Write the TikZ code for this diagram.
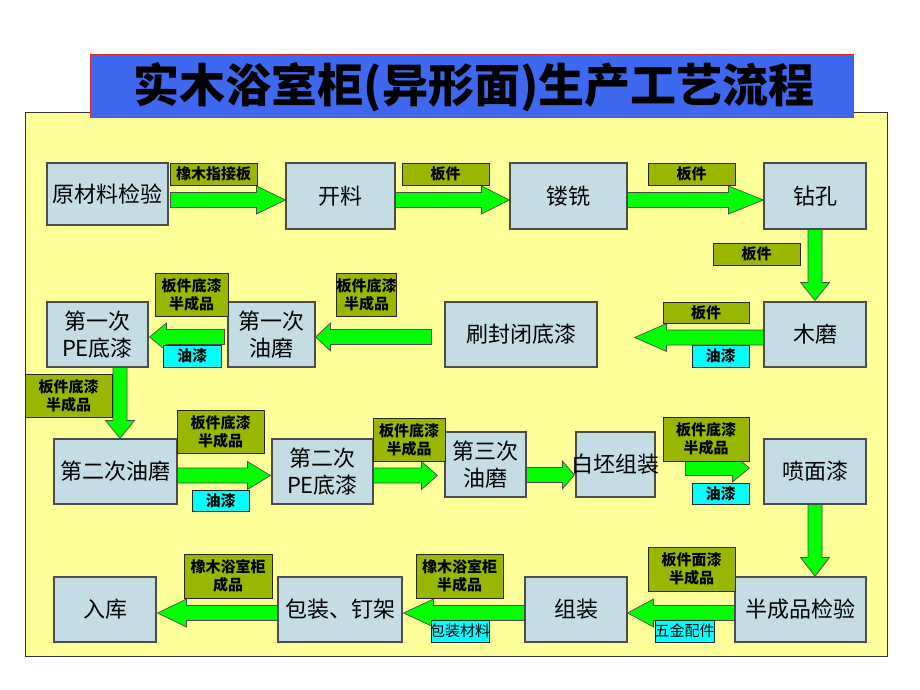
\documentclass[tikz,border=0pt]{standalone}
\usepackage{fontspec}
\setmainfont{Noto Sans CJK SC}
\usetikzlibrary{calc}
\definecolor{bgyellow}{HTML}{FFFF99}
\definecolor{procfill}{RGB}{196,221,229}
\definecolor{labolive}{RGB}{153,183,0}
\definecolor{labcyan}{HTML}{00FFFF}
\definecolor{arrgreen}{HTML}{00FF00}
\definecolor{titleblue}{RGB}{62,104,240}
\definecolor{titlered}{RGB}{230,40,40}
\pgfdeclarelayer{back}
\pgfdeclarelayer{arr}
\pgfsetlayers{back,arr,main}
\tikzset{
  procbox/.style={draw=black!70, line width=1.1pt, fill=procfill, align=center, inner sep=0pt,
    font=\fontsize{22}{27}\selectfont},
  sz/.style 2 args={minimum width=#1pt, minimum height=#2pt},
  olivelab/.style={draw=black!85, line width=0.8pt, fill=labolive, align=center, inner sep=0pt,
    font=\bfseries\fontsize{15}{18}\selectfont},
  cyanlab/.style={olivelab, fill=labcyan},
  cyanreg/.style={cyanlab, font=\fontsize{15}{18}\selectfont},
  barrow/.style={draw=black!70, line width=0.7pt, fill=arrgreen, line join=miter},
}
% horizontal block arrow: from anchor, dx, to anchor, dx, signed head offset, y
\newcommand{\harr}[6]{%
  \path[barrow] let \p1=(#1), \p2=(#3) in
    ({\x1+(#2)*1pt},{-(#6-7.5)*1pt}) -- ({\x2+((#4)+(#5))*1pt},{-(#6-7.5)*1pt})
    -- ({\x2+((#4)+(#5))*1pt},{-(#6-14)*1pt}) -- ({\x2+(#4)*1pt},{-(#6)*1pt})
    -- ({\x2+((#4)+(#5))*1pt},{-(#6+14)*1pt}) -- ({\x2+((#4)+(#5))*1pt},{-(#6+7.5)*1pt})
    -- ({\x1+(#2)*1pt},{-(#6+7.5)*1pt}) -- cycle;}
% vertical block arrow: from anchor, dy, to anchor, dy, signed head offset, x
\newcommand{\varr}[6]{%
  \path[barrow] let \p1=(#1), \p2=(#3) in
    ({(#6-7)*1pt},{\y1-(#2)*1pt}) -- ({(#6-7)*1pt},{\y2-((#4)+(#5))*1pt})
    -- ({(#6-14.5)*1pt},{\y2-((#4)+(#5))*1pt}) -- ({(#6)*1pt},{\y2-(#4)*1pt})
    -- ({(#6+14.5)*1pt},{\y2-((#4)+(#5))*1pt}) -- ({(#6+7)*1pt},{\y2-((#4)+(#5))*1pt})
    -- ({(#6+7)*1pt},{\y1-(#2)*1pt}) -- cycle;}
\begin{document}
\begin{tikzpicture}[x=1pt,y=-1pt]
\useasboundingbox (0,0) rectangle (920,690);
\begin{pgfonlayer}{back}
  \fill[white] (0,0) rectangle (920,690);
  \node[draw=black!80, line width=0.8pt, fill=bgyellow, sz={862}{544}] (panel) at (456,384) {};
\end{pgfonlayer}
% title
\node[draw=titlered, line width=1pt, fill=titleblue, sz={763}{63}] (title) at (471.5,86.5) {};
\node[inner sep=0pt, font=\bfseries\fontsize{46}{46}\selectfont] (titletext) at (474,87.5) {实木浴室柜(异形面)生产工艺流程};
% process boxes
\node[procbox, sz={121}{62}] (raw) at (107.5,194) {原材料检验};
\node[procbox, sz={109}{66}] (kailiao) at (340.5,196) {开料};
\node[procbox, sz={117}{66}] (louxi) at (568.5,196) {镂铣};
\node[procbox, sz={102}{66}] (zuankong) at (815,196) {钻孔};
\node[procbox, sz={102}{65}] (mumo) at (815,334.5) {木磨};
\node[procbox, sz={152}{65}] (shua) at (521,334.5) {刷封闭底漆};
\node[procbox, sz={87}{65}] (you1) at (271.5,334.5) {第一次\\油磨};
\node[procbox, sz={101}{65}] (pe1) at (97.5,334.5) {第一次\\PE底漆};
\node[procbox, sz={123}{65}] (you2) at (115.5,471.5) {第二次油磨};
\node[procbox, sz={101}{65}] (pe2) at (322.5,471.5) {第二次\\PE底漆};
\node[procbox, sz={81}{65}] (you3) at (485.5,464.5) {第三次\\油磨};
\node[procbox, sz={79}{65}] (baipi) at (615.5,464.5) {\makebox[0pt]{白坯组装}};
\node[procbox, sz={102}{65}] (penqi) at (815,471.5) {喷面漆};
\node[procbox, sz={131}{65}] (bancheng) at (800.5,609.5) {半成品检验};
\node[procbox, sz={102}{65}] (zuzhuang) at (576,609.5) {组装};
\node[procbox, sz={124}{65}] (baozhuang) at (340,609.5) {包装、钉架};
\node[procbox, sz={102}{65}] (ruku) at (105,609.5) {入库};
% arrows
\begin{pgfonlayer}{arr}
  \harr{raw.east}{2}{kailiao.west}{0}{-29}{200}
  \harr{kailiao.east}{0}{louxi.west}{0}{-28}{200}
  \harr{louxi.east}{0}{zuankong.west}{0}{-35}{200}
  \varr{zuankong.south}{0}{mumo.north}{-1}{-18}{815}
  \harr{mumo.west}{0}{shua.east}{37}{32}{337.5}
  \harr{shua.west}{-13}{you1.east}{0}{15}{337}
  \harr{you1.west}{-3}{pe1.east}{1}{17}{337}
  \varr{pe1.south}{0}{you2.north}{0}{-18}{120}
  \harr{you2.east}{0}{pe2.west}{-1}{-23}{475.5}
  \harr{pe2.east}{0}{you3.west}{-7}{-16}{475.5}
  \harr{you3.east}{0}{baipi.west}{-1}{-12}{475}
  \harr{baipi.east}{30}{penqi.west}{-14}{-17}{468}
  \varr{penqi.south}{0}{bancheng.north}{0}{-19}{815}
  \harr{bancheng.west}{0}{zuzhuang.east}{0}{26}{613}
  \harr{zuzhuang.west}{0}{baozhuang.east}{1}{30}{613}
  \harr{baozhuang.west}{0}{ruku.east}{1}{29}{613}
\end{pgfonlayer}
% olive labels
\node[olivelab, sz={87}{22}] (l1) at (213.5,174) {橡木指接板};
\node[olivelab, sz={87}{22}] (l2) at (445.5,174) {板件};
\node[olivelab, sz={87}{22}] (l3) at (691.5,174) {板件};
\node[olivelab, sz={87}{22}] (l4) at (756.5,254) {板件};
\node[olivelab, sz={86}{21}] (l5) at (706,312.5) {板件};
\node[olivelab, sz={59}{43}] (l6) at (366.5,294.5) {板件底漆\\半成品};
\node[olivelab, sz={73}{43}] (l7) at (191.5,294.5) {板件底漆\\半成品};
\node[olivelab, sz={87}{43}] (l8) at (68.5,395.5) {板件底漆\\半成品};
\node[olivelab, sz={87}{43}] (l9) at (220.5,431.5) {板件底漆\\半成品};
\node[olivelab, sz={72}{43}] (l10) at (409,439.5) {板件底漆\\半成品};
\node[olivelab, sz={86}{44}] (l11) at (706,439) {板件底漆\\半成品};
\node[olivelab, sz={87}{44}] (l12) at (691.5,569) {板件面漆\\半成品};
\node[olivelab, sz={87}{44}] (l13) at (459.5,576) {橡木浴室柜\\半成品};
\node[olivelab, sz={88}{44}] (l14) at (228,576) {橡木浴室柜\\成品};
% cyan labels
\node[cyanlab, sz={57}{22}] (c1) at (720.5,356) {油漆};
\node[cyanlab, sz={58}{22}] (c2) at (192,356) {油漆};
\node[cyanlab, sz={57}{21}] (c3) at (220.5,500.5) {油漆};
\node[cyanlab, sz={57}{21}] (c4) at (720.5,493.5) {油漆};
\node[cyanreg, sz={59}{22}] (c5) at (684.5,631) {\makebox[0pt]{五金配件}};
\node[cyanreg, sz={58}{22}] (c6) at (460,631) {\makebox[0pt]{包装材料}};
\end{tikzpicture}
\end{document}
